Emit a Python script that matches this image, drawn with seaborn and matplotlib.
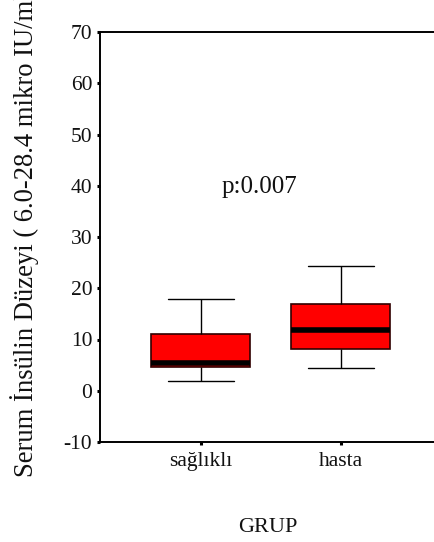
import numpy as np
import pandas as pd
import matplotlib
matplotlib.use("Agg")
import matplotlib.pyplot as plt
import seaborn as sns

# five-number summaries (min, Q1, median, Q3, max)
groups = ["sağlıklı", "hasta"]
saglikli_vals = [1.9, 4.7, 5.4, 11.0, 18.0]
hasta_vals = [4.4, 8.2, 11.8, 17.0, 24.3]
y_ticks = [-10, 0, 10, 20, 30, 40, 50, 60, 70]
p_text = "p:0.007"

df = pd.DataFrame({
    "GRUP": [groups[0]] * len(saglikli_vals) + [groups[1]] * len(hasta_vals),
    "insulin": saglikli_vals + hasta_vals,
})

sns.set_style("white")
plt.rcParams["font.family"] = ["Liberation Serif", "DejaVu Serif"]

fig = plt.figure(figsize=(4.35, 5.42), dpi=100)
ax = fig.add_axes([100 / 435, 100 / 542, 335 / 435, 410 / 542])

sns.boxplot(data=df, x="GRUP", y="insulin", order=groups, ax=ax,
            color="#ff0000", saturation=1, width=0.71, linecolor="black",
            linewidth=1, whis=1.5, showfliers=False,
            boxprops=dict(edgecolor="#300000", linewidth=1.2),
            medianprops=dict(color="black", linewidth=4),
            capwidths=0.47)

ax.set_ylim(-10, 70)
ax.set_xlim(-0.719, 1.674)
ax.set_yticks(y_ticks)
ax.set_yticklabels([str(t) for t in y_ticks])

for side in ["left", "top", "bottom"]:
    ax.spines[side].set_visible(True)
    ax.spines[side].set_linewidth(1.4)
    ax.spines[side].set_color("black")
ax.spines["right"].set_visible(False)

ax.tick_params(axis="both", which="major", direction="out", length=2.5,
               width=2.2, color="black", labelsize=15.5, pad=3,
               left=True, bottom=True, labelcolor="#111111")
ax.tick_params(axis="x", pad=5)

ax.text(0.42, 39.8, p_text, ha="center", va="center", fontsize=18,
        color="#111111")

ax.set_xlabel("")
ax.set_ylabel("")
fig.text(268 / 435, 1 - 527 / 542, "GRUP", ha="center", va="center",
         fontsize=16, color="#111111")
# the reference runs this label off the top edge of the image
fig.text(25 / 435, 1 - 477 / 542,
         "Serum İnsülin Düzeyi ( 6.0-28.4 mikro IU/ml)",
         rotation=90, ha="center", va="bottom", fontsize=19.2,
         color="#111111")

fig.savefig("out.png", dpi=100)
